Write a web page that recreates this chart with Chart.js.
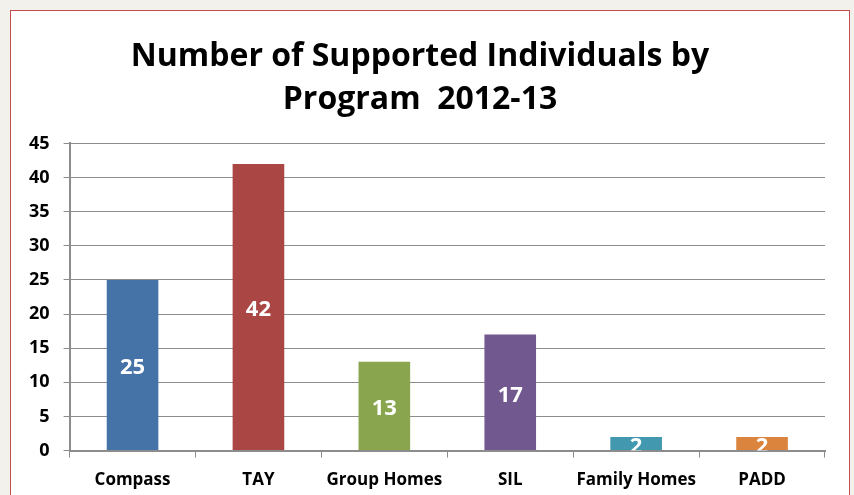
<!DOCTYPE html>
<html>
<head>
<meta charset="utf-8">
<script src="https://cdn.jsdelivr.net/npm/chart.js@4"></script>
<style>
  html, body { margin: 0; padding: 0; background: #f3f1ec; }
  #wrap { width: 854px; height: 495px; position: relative; }
</style>
</head>
<body>
<div id="wrap"><canvas id="programChart" width="854" height="495"></canvas></div>
<script>
const categories = ['Compass', 'TAY', 'Group Homes', 'SIL', 'Family Homes', 'PADD'];
const individuals = [25, 42, 13, 17, 2, 2];
const barColors = ['#4572a7', '#aa4643', '#89a54e', '#71588f', '#4198af', '#db843d'];

// white panel with red border behind the chart
const panel = {
    id: 'panel',
    beforeDraw(chart) {
        const c = chart.ctx;
        c.save();
        c.fillStyle = '#ffffff';
        c.fillRect(10, 10, 840, 490);
        c.strokeStyle = '#c0504d';
        c.lineWidth = 1;
        c.strokeRect(10.5, 10.5, 839, 490);
        c.restore();
    }
};

// values written in the middle of each bar
const barValues = {
    id: 'barValues',
    afterDatasetsDraw(chart) {
        const c = chart.ctx;
        const area = chart.chartArea;
        c.save();
        c.beginPath();
        c.rect(area.left, area.top, area.right - area.left, area.bottom - area.top);
        c.clip();
        c.fillStyle = '#ffffff';
        c.font = 'bold 22px "Open Sans"';
        c.textAlign = 'center';
        c.textBaseline = 'middle';
        chart.getDatasetMeta(0).data.forEach((bar, i) => {
            c.fillText(String(individuals[i]), bar.x, (bar.y + bar.base) / 2 + 3);
        });
        c.restore();
    }
};

new Chart(document.getElementById('programChart').getContext('2d'), {
    type: 'bar',
    data: {
        labels: categories,
        datasets: [{
            data: individuals,
            backgroundColor: barColors,
            barPercentage: 0.41,
            categoryPercentage: 1
        }]
    },
    options: {
        responsive: false,
        animation: false,
        layout: { padding: { left: 15, right: 29, top: 12, bottom: -7 } },
        plugins: {
            legend: { display: false },
            tooltip: { enabled: false },
            title: {
                display: true,
                text: ['Number of Supported Individuals by', 'Program  2012-13'],
                color: '#000000',
                font: { family: 'Open Sans', size: 32, weight: 'bold', lineHeight: 1.35 },
                padding: { top: 23, bottom: 22 }
            }
        },
        scales: {
            x: {
                offset: true,
                grid: { offset: true, drawOnChartArea: false, color: '#8c8c8c', tickLength: 7 },
                border: { color: '#8c8c8c', width: 2 },
                ticks: {
                    color: '#000000',
                    font: { family: 'Open Sans', size: 17, weight: 'bold' },
                    padding: 12,
                    maxRotation: 0,
                    minRotation: 0,
                    autoSkip: false
                }
            },
            y: {
                min: 0,
                max: 45,
                ticks: { stepSize: 5, color: '#000000', font: { family: 'Open Sans', size: 18, weight: 'bold' }, padding: 14 },
                grid: { color: '#8c8c8c', tickLength: 6 },
                border: { color: '#8c8c8c', width: 2 }
            }
        }
    },
    plugins: [panel, barValues]
});
</script>
</body>
</html>
